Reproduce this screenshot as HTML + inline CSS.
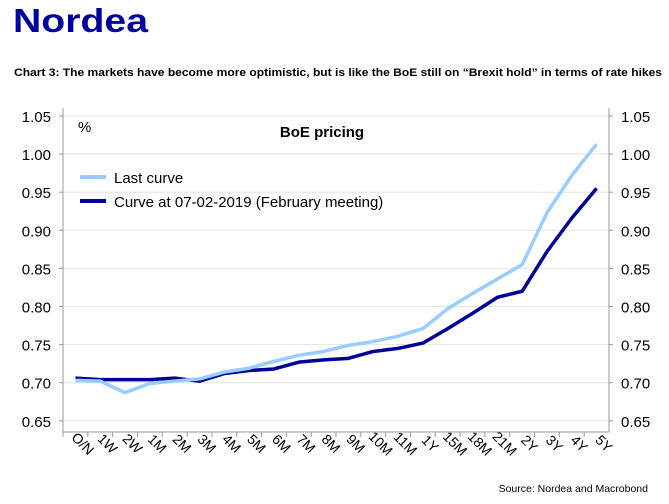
<!DOCTYPE html>
<html><head><meta charset="utf-8"><style>
body{margin:0;background:#fff;width:669px;height:499px;overflow:hidden;font-family:"Liberation Sans",sans-serif}
</style></head><body>
<svg width="669" height="499" xmlns="http://www.w3.org/2000/svg">
<text x="13" y="32" font-size="33" font-weight="bold" fill="#0000a0" textLength="135" lengthAdjust="spacingAndGlyphs" font-family="Liberation Sans">Nordea</text>
<text x="14" y="76" font-size="11.3" font-weight="bold" fill="#000" textLength="648" lengthAdjust="spacingAndGlyphs">Chart 3: The markets have become more optimistic, but is like the BoE still on “Brexit hold” in terms of rate hikes</text>
<g id="grid"></g>
<line x1="63" y1="108" x2="63" y2="432" stroke="#999"/>
<line x1="609" y1="108" x2="609" y2="432" stroke="#999"/>
<line x1="63" y1="432" x2="609" y2="432" stroke="#999"/>
<text x="78" y="132" font-size="15">%</text>
<text x="322" y="137" font-size="15" font-weight="bold" text-anchor="middle">BoE pricing</text>
<line x1="80" y1="177" x2="106" y2="177" stroke="#99ccff" stroke-width="4"/>
<text x="114" y="183" font-size="15">Last curve</text>
<line x1="80" y1="201" x2="106" y2="201" stroke="#000099" stroke-width="4"/>
<text x="114" y="207" font-size="15">Curve at 07-02-2019 (February meeting)</text>
<g id="marks"></g>
<text x="648" y="492" font-size="10.5" text-anchor="end">Source: Nordea and Macrobond</text>
</svg>
<script>
const categories=["O/N","1W","2W","1M","2M","3M","4M","5M","6M","7M","8M","9M","10M","11M","1Y","15M","18M","21M","2Y","3Y","4Y","5Y"];
const lastCurve=[0.703,0.702,0.687,0.699,0.702,0.705,0.714,0.719,0.728,0.736,0.741,0.749,0.754,0.761,0.771,0.797,0.817,0.836,0.855,0.923,0.972,1.013];
const febCurve=[0.706,0.704,0.704,0.704,0.706,0.702,0.712,0.716,0.718,0.727,0.730,0.732,0.741,0.745,0.752,0.771,0.791,0.812,0.820,0.872,0.916,0.955];
const yTicks=[0.65,0.70,0.75,0.80,0.85,0.90,0.95,1.00,1.05];
const NS="http://www.w3.org/2000/svg";
const x0=63,x1=609,step=(x1-x0)/categories.length;
function xs(i){return x0+step*(i+0.5);}
function ys(v){return 116+(1.05-v)/0.05*38.1;}
const grid=document.getElementById('grid'),marks=document.getElementById('marks');
function mk(tag,attrs,parent){const e=document.createElementNS(NS,tag);for(const k in attrs)e.setAttribute(k,attrs[k]);parent.appendChild(e);return e;}
yTicks.forEach(v=>{
  const y=ys(v);
  const g=mk('line',{x1:x0,x2:x1,y1:y,y2:y,stroke:'#e4e4e4'},grid);
  
  
  mk('line',{x1:x0-4,x2:x0,y1:y,y2:y,stroke:'#999'},grid);
  mk('line',{x1:x1,x2:x1+4,y1:y,y2:y,stroke:'#999'},grid);
  const l=mk('text',{x:x0-12,y:y+6,'font-size':15,'text-anchor':'end'},grid);l.textContent=v.toFixed(2);
  
  
  const r=mk('text',{x:x1+12,y:y+6,'font-size':15},grid);r.textContent=v.toFixed(2);
  
  
});
categories.forEach((c,i)=>{
  const tx=x0+step*i;
  mk('line',{x1:tx,x2:tx,y1:432,y2:437,stroke:'#999'},grid);
  const cx=xs(i)+4,cy=447;
  const t=mk('text',{x:cx,y:cy,'font-size':14,'text-anchor':'middle',transform:`rotate(45 ${cx} ${cy})`},grid);
  t.textContent=c;
  
  
});
function line(data,color,name){
  const p=mk('polyline',{points:data.map((v,i)=>xs(i)+','+ys(v)).join(' '),fill:'none',stroke:color,'stroke-width':3.5,'stroke-linejoin':'round'},marks);
  
  
}
line(febCurve,'#000099','feb-curve-line');
line(lastCurve,'#99ccff','last-curve-line');
</script>
</body></html>
